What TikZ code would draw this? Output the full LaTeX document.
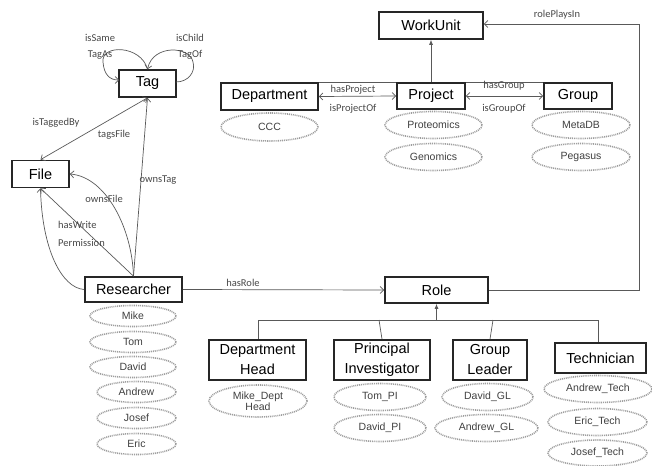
\documentclass[tikz,border=0pt]{standalone}
\usepackage{fontspec}
\setmainfont{Liberation Sans}
\newfontfamily\lblfont{Carlito}
\usetikzlibrary{shapes.geometric,arrows.meta}
\begin{document}
\begin{tikzpicture}[x=1pt,y=-1pt,
  cls/.style={draw=black!85, line width=1.7pt, fill=white, inner sep=0pt,
    font=\fontsize{14.5}{20}\selectfont, align=center},
  inst/.style={ellipse, draw=black!38, line width=1.6pt, dash pattern=on 1pt off 0.9pt,
    inner sep=0pt, text=black!75, font=\fontsize{10.5}{12}\selectfont, align=center},
  rel/.style={draw=black!65, line width=0.7pt},
  lbl/.style={inner sep=0pt, text=black!72, font=\lblfont\fontsize{10.5}{11}\selectfont},
  open/.style={-{Straight Barb[length=3.5pt,width=7pt]}},
  both/.style={{Straight Barb[length=3.5pt,width=7pt]}-{Straight Barb[length=3.5pt,width=7pt]}},
  isa/.style={-{Latex[length=5pt,width=4pt]}}
]
\useasboundingbox (0,0) rectangle (652,465);

% classes
\node[cls, minimum width=57, minimum height=27] (tag) at (147.5,83.5) {Tag};
\node[cls, minimum width=57, minimum height=27] (file) at (40.5,174) {File};
\node[cls, minimum width=97, minimum height=25] (researcher) at (133.5,289.5) {Researcher};
\node[cls, minimum width=104, minimum height=27] (workunit) at (431,25.5) {WorkUnit};
\node[cls, minimum width=97, minimum height=27] (department) at (269.5,96.5) {Department};
\node[cls, minimum width=68, minimum height=26] (project) at (431,96) {Project};
\node[cls, minimum width=68, minimum height=26] (group) at (578,96) {Group};
\node[cls, minimum width=103, minimum height=26] (role) at (436.5,290) {Role};
\node[cls, minimum width=97, minimum height=40] (depthead) at (257.5,360) {Department\\Head};
\node[cls, minimum width=96, minimum height=40] (pi) at (382,360) {Principal\\Investigator};
\node[cls, minimum width=74, minimum height=40] (groupleader) at (490,360) {Group\\Leader};
\node[cls, minimum width=91, minimum height=30] (technician) at (600.5,358) {Technician};

% instances
\node[inst, minimum width=86, minimum height=21] (mike) at (133,316) {Mike};
\node[inst, minimum width=86, minimum height=21] (tom) at (133,342) {Tom};
\node[inst, minimum width=86, minimum height=21] (david) at (133,367) {David};
\node[inst, minimum width=79, minimum height=21] (andrew) at (136.5,392) {Andrew};
\node[inst, minimum width=79, minimum height=21] (josef) at (136.5,418) {Josef};
\node[inst, minimum width=79, minimum height=21] (eric) at (136.5,444) {Eric};
\node[inst, minimum width=97, minimum height=28] (ccc) at (269.5,127) {CCC};
\node[inst, minimum width=97, minimum height=27] (proteomics) at (433.5,125) {Proteomics};
\node[inst, minimum width=97, minimum height=27] (genomics) at (433.5,157) {Genomics};
\node[inst, minimum width=98, minimum height=27] (metadb) at (581,125) {MetaDB};
\node[inst, minimum width=98, minimum height=27] (pegasus) at (581,157) {Pegasus};
\node[inst, minimum width=98, minimum height=32, font=\fontsize{10.5}{11.5}\selectfont] (mikedh) at (258,401) {Mike\_Dept\\Head};
\node[inst, minimum width=92, minimum height=27] (tompi) at (380,397) {Tom\_PI};
\node[inst, minimum width=92, minimum height=27] (davidpi) at (380,428) {David\_PI};
\node[inst, minimum width=91, minimum height=27] (davidgl) at (487.5,397) {David\_GL};
\node[inst, minimum width=103, minimum height=27] (andrewgl) at (486.5,428) {Andrew\_GL};
\node[inst, minimum width=108, minimum height=27] (andrewtech) at (598,389) {Andrew\_Tech};
\node[inst, minimum width=99, minimum height=27] (erictech) at (597.5,422) {Eric\_Tech};
\node[inst, minimum width=99, minimum height=26] (joseftech) at (597.5,453) {Josef\_Tech};

% Tag self relations
\coordinate (tagL) at (119,80);
\coordinate (tagR) at (176,82);
\draw[rel,open] (tag.north) .. controls (141,45) and (101,44) .. (103,62)
  .. controls (104,75) and (110,80) .. (tagL);
\draw[rel,open] (tagR) .. controls (188,82) and (196,72) .. (193,62)
  .. controls (190,46) and (153,44) .. (tag.north);
\node[lbl] (l1) at (100,38) {isSame};
\node[lbl] (l2) at (100,55) {TagAs};
\node[lbl] (l3) at (190,38) {isChild};
\node[lbl] (l4) at (190,55) {TagOf};

% File / Tag / Researcher relations
\draw[rel,both] (file.north) -- (tag.south);
\node[lbl] (l5) at (56,123) {isTaggedBy};
\node[lbl] (l6) at (114,135) {tagsFile};
\draw[rel,open] (researcher.north) -- (tag.south);
\node[lbl] (l7) at (158,180) {ownsTag};
\draw[rel,open] (researcher.north) .. controls (132,228) and (106,177) .. (file.east);
\node[lbl] (l8) at (104,199) {ownsFile};
\draw[rel,open] (researcher.north) -- (file.south);
\draw[rel,open] (researcher.west) .. controls (62,288) and (42,250) .. (file.south);
\node[lbl, align=left, anchor=west, font=\lblfont\fontsize{10.5}{18}\selectfont] (l9) at (58,234) {hasWrite\\Permission};

% Work unit relations
\draw[rel,isa] (project.north) -- (workunit.south);
\draw[rel] (department.north east) -- (project.north west);
\draw[rel,both] (department.east) -- (project.west);
\node[lbl] (l10) at (353,90) {hasProject};
\node[lbl] (l11) at (353,109) {isProjectOf};
\draw[rel] (project.north east) -- (group.north west);
\draw[rel,both] (project.east) -- (group.west);
\node[lbl] (l12) at (504,86) {hasGroup};
\node[lbl] (l13) at (504,109) {isGroupOf};

% Role relations
\draw[rel,open] (researcher.east) -- (role.west);
\node[lbl] (l14) at (243,283) {hasRole};
\coordinate (rp1) at (639,290);
\coordinate (rp2) at (639,24);
\draw[rel,open] (role.east) -- (rp1) -- (rp2) -- (workunit.east |- rp2);
\node[lbl] (l15) at (557,15) {rolePlaysIn};

% Role hierarchy
\coordinate (bus) at (436.5,320);
\coordinate (busL) at (258,320);
\coordinate (busR) at (598,320);
\coordinate (busPI) at (379,320);
\coordinate (busGL) at (493,320);
\draw[rel,isa] (bus) -- (role.south);
\draw[rel] (depthead.north -| busL) -- (busL) -- (busR) -- (technician.north -| busR);
\draw[rel] (busPI) -- (pi.north);
\draw[rel] (busGL) -- (groupleader.north);
\end{tikzpicture}
\end{document}
